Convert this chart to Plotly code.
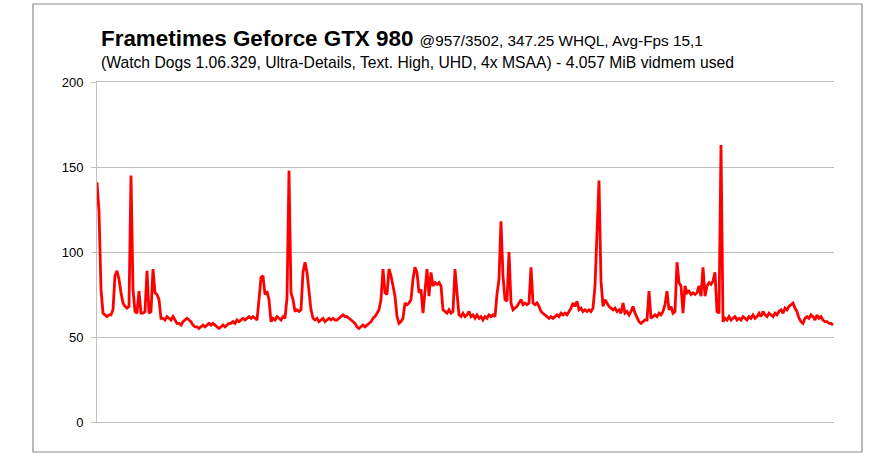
import plotly.graph_objects as go

# Frametime values (ms), one sample per ~2px of plot width
frametimes = [
    141, 124, 78, 64, 63, 62, 63, 63, 66, 86,
    89, 84, 76, 70, 68, 67, 68, 145, 78, 65,
    64, 77, 64, 64, 65, 89, 64, 65, 90, 76,
    75, 72, 61, 61, 60, 62, 61, 60, 62, 60,
    58, 58, 57, 59, 60, 61, 60, 59, 57, 56,
    56, 55, 56, 57, 56, 57, 58, 57, 58, 57,
    56, 55, 56, 57, 56, 57, 58, 58, 59, 58,
    60, 59, 60, 61, 60, 61, 62, 61, 62, 61,
    60, 72, 85, 86, 75, 77, 72, 59, 61, 60,
    62, 61, 60, 62, 61, 73, 148, 76, 72, 65,
    66, 65, 66, 88, 94, 88, 77, 66, 61, 60,
    61, 59, 60, 61, 59, 60, 61, 60, 61, 60,
    60, 61, 62, 63, 62, 62, 61, 60, 59, 58,
    56, 55, 56, 57, 56, 57, 58, 59, 61, 62,
    64, 66, 72, 90, 76, 75, 90, 86, 80, 74,
    62, 58, 59, 61, 70, 69, 70, 72, 84, 91,
    88, 76, 78, 64, 77, 90, 74, 88, 80, 82,
    81, 82, 80, 66, 65, 64, 66, 64, 65, 90,
    76, 63, 62, 64, 62, 63, 65, 62, 63, 61,
    63, 61, 62, 60, 62, 61, 63, 62, 63, 62,
    75, 84, 118, 86, 72, 71, 100, 70, 66, 67,
    68, 70, 72, 69, 70, 69, 70, 91, 70, 69,
    70, 68, 65, 64, 63, 62, 61, 62, 61, 62,
    63, 62, 64, 63, 64, 63, 65, 67, 70, 68,
    71, 66, 67, 65, 66, 65, 66, 65, 67, 80,
    111, 142, 83, 68, 72, 70, 68, 67, 66, 67,
    65, 66, 64, 70, 64, 65, 63, 65, 68, 64,
    61, 59, 58, 59, 60, 60, 77, 61, 62, 63,
    62, 64, 63, 65, 69, 77, 66, 68, 64, 65,
    94, 82, 80, 64, 80, 76, 77, 75, 76, 75,
    76, 80, 74, 91, 74, 80, 82, 81, 83, 88,
    65, 64, 163, 59, 61, 60, 62, 60, 61, 62,
    60, 61, 60, 62, 61, 60, 62, 61, 63, 61,
    62, 64, 62, 65, 63, 62, 64, 63, 62, 64,
    63, 65, 66, 64, 67, 66, 68, 69, 70, 67,
    65, 61, 59, 58, 61, 62, 61, 63, 62, 60,
    63, 61, 62, 60, 59, 59, 58, 58, 57,
]
frames = list(range(len(frametimes)))

y_ticks = [0, 50, 100, 150, 200]
title_main = "Frametimes Geforce GTX 980"
title_info = "@957/3502, 347.25 WHQL, Avg-Fps 15,1"
subtitle = "(Watch Dogs 1.06.329, Ultra-Details, Text. High, UHD, 4x MSAA) - 4.057 MiB vidmem used"

W, H = 886, 466
L, R, T, B = 97, 834, 82, 422

fig = go.Figure()
fig.add_trace(go.Scatter(
    x=frames, y=frametimes, mode="lines",
    line=dict(color="#ff0000", width=2.8),
    hoverinfo="skip", showlegend=False,
))

def px_x(px):
    return (px - L) / (R - L)

def px_y(py):
    return (B - py) / (B - T)

fig.update_layout(
    width=W, height=H,
    margin=dict(l=L, r=W - R, t=T, b=H - B, pad=0),
    paper_bgcolor="white", plot_bgcolor="white",
    font=dict(family="Liberation Sans, Arial, sans-serif", color="#000000"),
    xaxis=dict(
        range=[0, len(frametimes) - 0.5],
        showgrid=False, zeroline=False, showticklabels=False, ticks="",
        showline=True, linecolor="#bfbfbf", linewidth=1, mirror=True,
    ),
    yaxis=dict(
        range=[0, 200], tickvals=y_ticks, ticktext=[str(v) for v in y_ticks],
        showgrid=True, gridcolor="#bfbfbf", gridwidth=1,
        zeroline=False, showline=True, linecolor="#bfbfbf", linewidth=1,
        ticks="outside", ticklen=5, tickcolor="#bfbfbf", tickwidth=1,
        ticklabelstandoff=5,
        tickfont=dict(size=13, color="#000000"),
    ),
    shapes=[dict(
        type="rect", xref="paper", yref="paper",
        x0=px_x(33), x1=px_x(862), y0=px_y(452), y1=px_y(4),
        line=dict(color="#8c8c8c", width=1.2), layer="below",
    )],
    annotations=[
        dict(
            xref="paper", yref="paper", x=px_x(99), y=px_y(38),
            xanchor="left", yanchor="middle", showarrow=False,
            text=f"<b>{title_main}</b> <span style='font-size:15.3px'>{title_info}</span>",
            font=dict(size=22.4, color="#000000"),
        ),
        dict(
            xref="paper", yref="paper", x=px_x(99), y=px_y(62),
            xanchor="left", yanchor="middle", showarrow=False,
            text=subtitle, font=dict(size=15.7, color="#000000"),
        ),
    ],
)

fig.write_html(
    "out.html",
    config={"displayModeBar": False, "staticPlot": True},
    post_script="document.body.style.margin='0';",
)
